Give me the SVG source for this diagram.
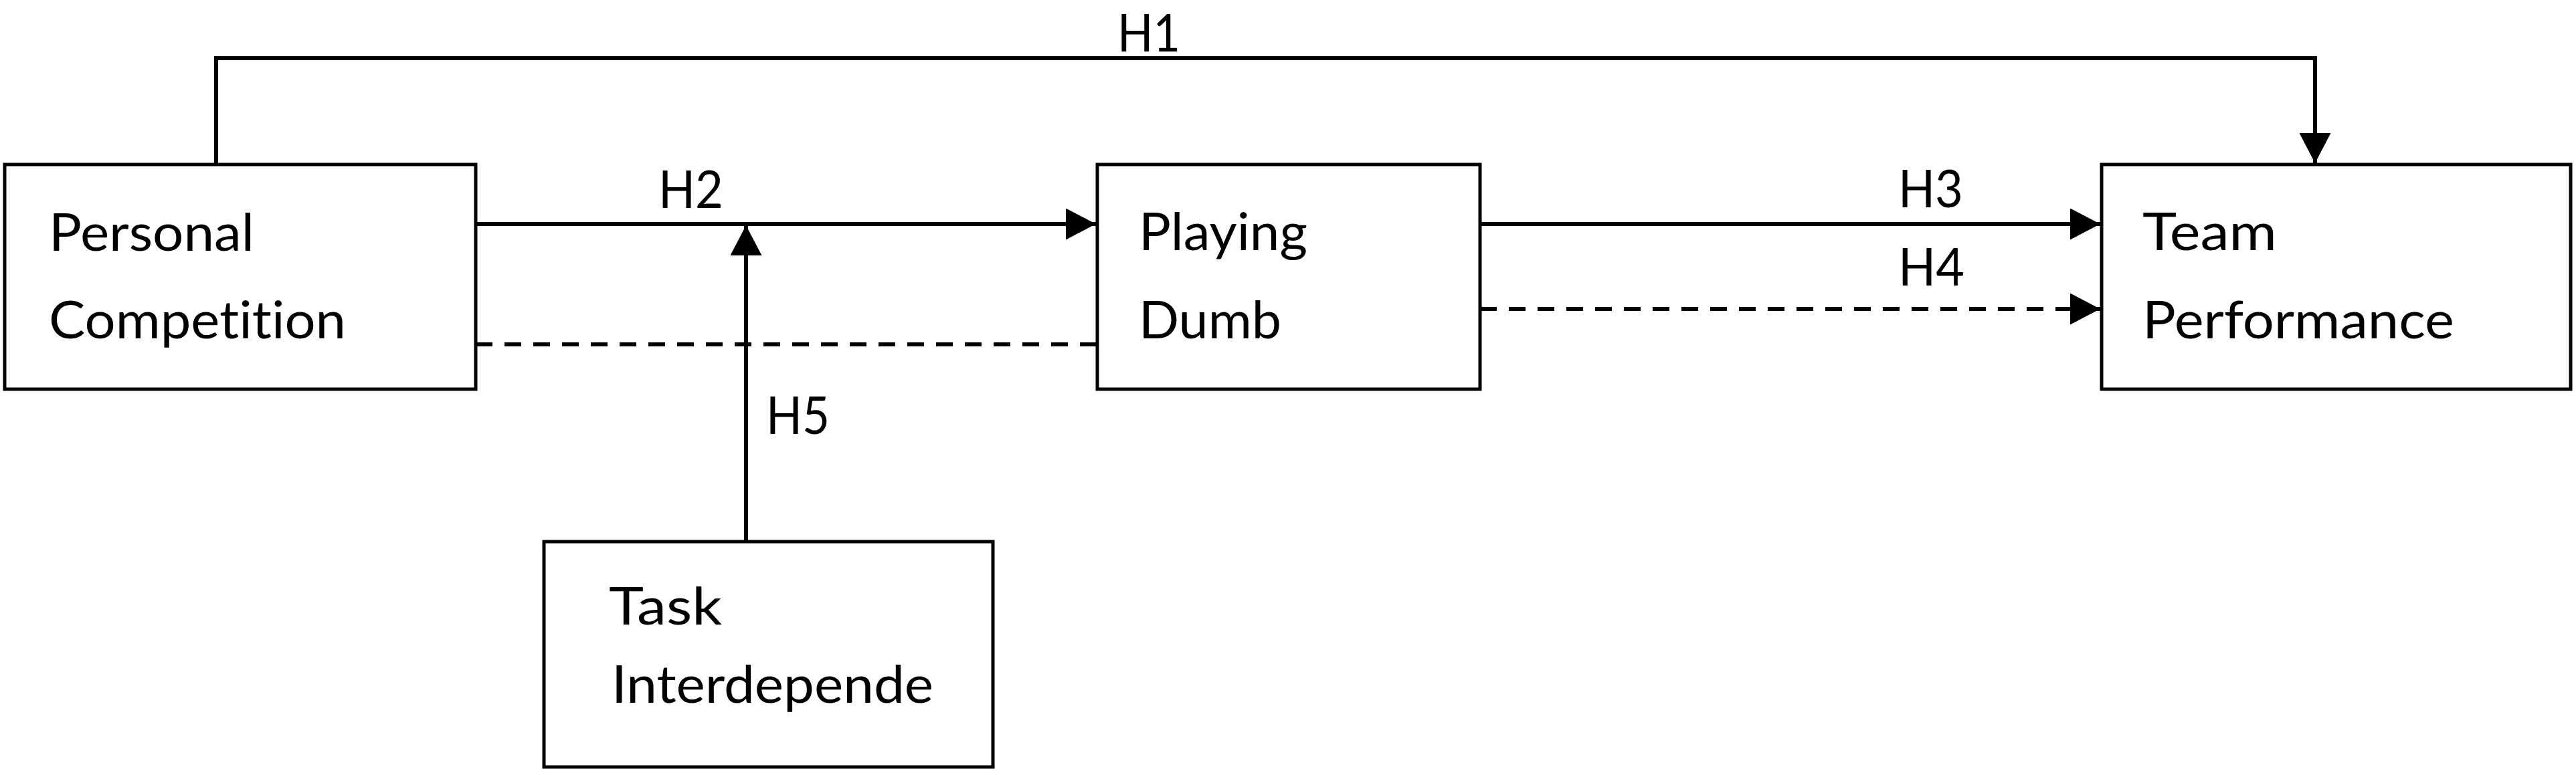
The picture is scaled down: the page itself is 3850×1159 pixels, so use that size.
<svg xmlns="http://www.w3.org/2000/svg" width="3850" height="1159" viewBox="0 0 3850 1159">
<style>
.box{fill:#fff;stroke:#000;stroke-width:5}
.ln{fill:none;stroke:#000;stroke-width:6}
.dash{stroke-dasharray:25 18}
text{font-family:Lato,"Open Sans","Liberation Sans",sans-serif;font-size:78px;fill:#000;font-variant-ligatures:none;font-feature-settings:"liga" 0}
</style>
<defs>
<marker id="ah" viewBox="0 0 45 47" refX="45" refY="23.5" markerWidth="45" markerHeight="47" markerUnits="userSpaceOnUse" orient="auto">
<path d="M0,0 L45,23.5 L0,47 z" fill="#000" stroke="none"/>
</marker>
</defs>
<rect width="3850" height="1159" fill="#fff"/>
<g id="connectors">
<path id="h1" class="ln" d="M323,246 V87 H3460 V244" marker-end="url(#ah)"/>
<path id="h2" class="ln" d="M711,335 H1638" marker-end="url(#ah)"/>
<path id="h5" class="ln" d="M1115,810 V337" marker-end="url(#ah)"/>
<path id="pc-pd-dash" class="ln dash" d="M711,515 H1640"/>
<path id="h3" class="ln" d="M2212,335 H3139" marker-end="url(#ah)"/>
<path id="h4" class="ln dash" d="M2212,462 H3139" marker-end="url(#ah)"/>
<text x="1670" y="77" textLength="94" lengthAdjust="spacingAndGlyphs">H1</text>
<text x="984" y="311" textLength="97" lengthAdjust="spacingAndGlyphs">H2</text>
<text x="2837" y="310" textLength="97" lengthAdjust="spacingAndGlyphs">H3</text>
<text x="2837" y="427" textLength="99" lengthAdjust="spacingAndGlyphs">H4</text>
<text x="1145" y="649" textLength="95" lengthAdjust="spacingAndGlyphs">H5</text>
</g>
<g id="personal-competition">
<rect class="box" x="7" y="246" width="704" height="336"/>
<text x="73" y="375" textLength="307" lengthAdjust="spacingAndGlyphs">Personal</text>
<text x="73" y="506" textLength="444" lengthAdjust="spacingAndGlyphs">Competition</text>
</g>
<g id="playing-dumb">
<rect class="box" x="1640" y="246" width="572" height="336"/>
<text x="1702" y="374" textLength="252" lengthAdjust="spacingAndGlyphs">Playing</text>
<text x="1702" y="506" textLength="213" lengthAdjust="spacingAndGlyphs">Dumb</text>
</g>
<g id="team-performance">
<rect class="box" x="3141" y="246" width="701" height="336"/>
<text x="3202" y="374" textLength="201" lengthAdjust="spacingAndGlyphs">Team</text>
<text x="3202" y="506" textLength="466" lengthAdjust="spacingAndGlyphs">Performance</text>
</g>
<g id="task-interdependence">
<rect class="box" x="813" y="810" width="671" height="337"/>
<text x="910" y="934" textLength="169" lengthAdjust="spacingAndGlyphs">Task</text>
<text x="914" y="1051" textLength="481" lengthAdjust="spacingAndGlyphs">Interdepende</text>
</g>
</svg>
